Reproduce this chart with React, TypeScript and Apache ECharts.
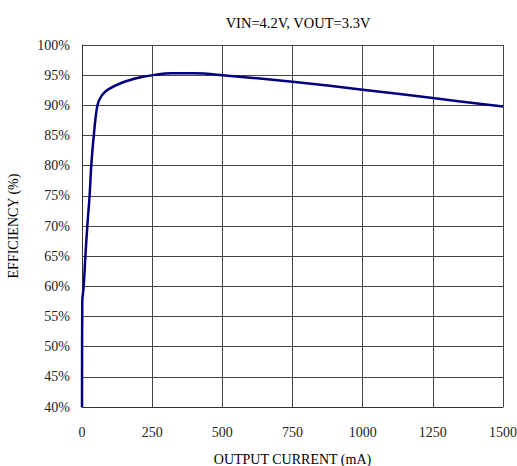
import React, { useEffect, useRef } from "react";
import * as echarts from "echarts";

const currentMA = [0, 1, 6, 12, 19, 27, 33, 42, 55, 70, 92, 140, 205, 259, 320, 400, 500, 750, 1000, 1250, 1500];
const efficiency = [40, 57.5, 60, 65, 70, 75, 80, 85, 90, 91.6, 92.6, 93.7, 94.6, 95.05, 95.3, 95.3, 95.0, 93.9, 92.6, 91.2, 89.8];
const titleText = "VIN=4.2V, VOUT=3.3V";
const xName = "OUTPUT CURRENT (mA)";
const yName = "EFFICIENCY (%)";

export default function App() {
  const ref = useRef<HTMLDivElement>(null);
  useEffect(() => {
    if (!ref.current) return;
    const chart = echarts.init(ref.current, null, { renderer: "svg" });
    const font = "Liberation Serif";
    chart.setOption({
      animation: false,
      backgroundColor: "#ffffff",
      title: {
        text: titleText,
        left: 293,
        textAlign: "center",
        top: 10,
        textStyle: { fontFamily: font, fontSize: 14.5, fontWeight: "normal", color: "#000" },
      },
      grid: { left: 82, right: 14, top: 45, bottom: 59, containLabel: false, outerBoundsMode: "none" },
      xAxis: {
        type: "value",
        min: 0,
        max: 1500,
        interval: 250,
        name: xName,
        nameLocation: "middle",
        nameGap: 45,
        nameTextStyle: { fontFamily: font, fontSize: 14, color: "#000" },
        axisLine: { show: true, lineStyle: { color: "#333", width: 1 } },
        axisTick: { show: false },
        axisLabel: { fontFamily: font, fontSize: 14, color: "#222", margin: 18, formatter: (v: number) => String(v) },
        splitLine: { show: true, lineStyle: { color: "#444", width: 1 } },
      },
      yAxis: {
        type: "value",
        min: 40,
        max: 100,
        interval: 5,
        name: yName,
        nameLocation: "middle",
        nameGap: 62,
        nameTextStyle: { fontFamily: font, fontSize: 14, color: "#000" },
        axisLine: { show: true, lineStyle: { color: "#333", width: 1 } },
        axisTick: { show: false },
        axisLabel: { fontFamily: font, fontSize: 14, color: "#222", margin: 12, formatter: "{value}%" },
        splitLine: { show: true, lineStyle: { color: "#444", width: 1 } },
      },
      series: [
        {
          type: "line",
          data: currentMA.map((x, i) => [x, efficiency[i]]),
          showSymbol: false,
          smooth: 0.35,
          lineStyle: { color: "#000080", width: 2.5 },
        },
      ],
    });
    return () => chart.dispose();
  }, []);
  return (
    <div
      ref={ref}
      style={{ position: "absolute", left: 0, top: 0, width: 517, height: 466 }}
    />
  );
}
